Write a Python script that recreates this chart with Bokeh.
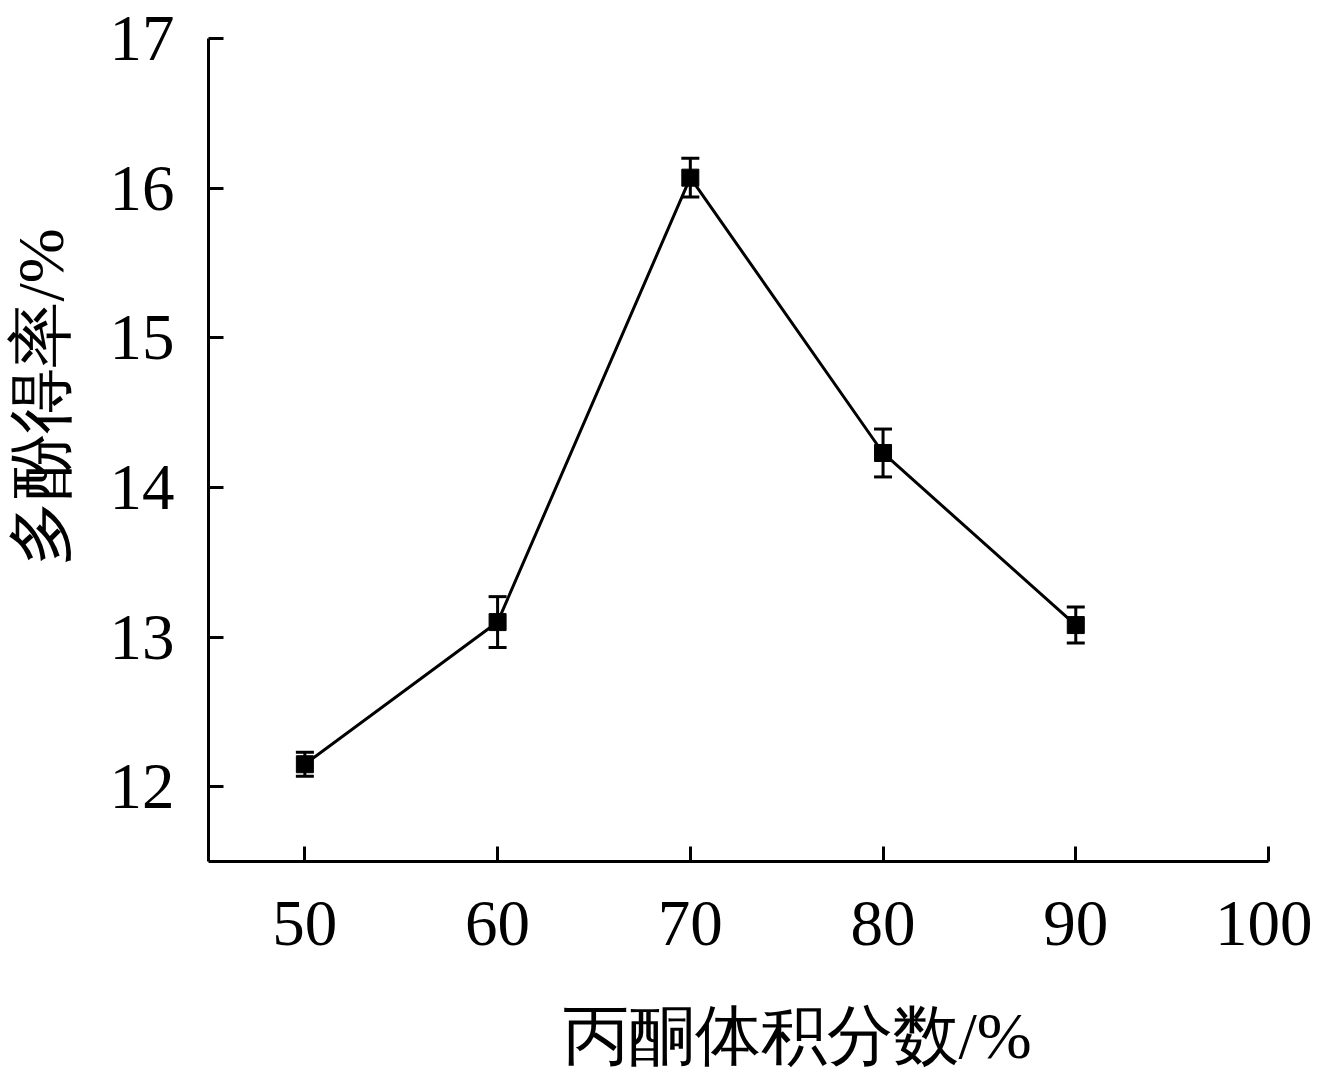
from bokeh.plotting import figure
from bokeh.models import ColumnDataSource, Whisker, TeeHead, Title, FixedTicker, Range1d
from bokeh.embed import file_html
from bokeh.resources import INLINE

# data
acetone = [50, 60, 70, 80, 90]
yield_pct = [12.15, 13.10, 16.07, 14.23, 13.08]
err = [0.08, 0.17, 0.13, 0.16, 0.12]
x_ticks = [50, 60, 70, 80, 90, 100]
y_ticks = [12, 13, 14, 15, 16, 17]
x_title = "丙酮体积分数/%"
y_title = "多酚得率/%"

src = ColumnDataSource(dict(
    x=acetone, y=yield_pct,
    upper=[v + e for v, e in zip(yield_pct, err)],
    lower=[v - e for v, e in zip(yield_pct, err)],
))

W, H = 1312, 1072
p = figure(width=W, height=H, output_backend="svg", toolbar_location=None,
           x_range=Range1d(45, 100), y_range=Range1d(11.5, 17),
           min_border_left=208, min_border_right=44, min_border_top=38, min_border_bottom=211)
p.outline_line_color = None
p.grid.visible = False
p.background_fill_color = "white"
p.border_fill_color = "white"

FONT = "Liberation Serif"
for ax in (p.xaxis[0], p.yaxis[0]):
    ax.axis_line_width = 3
    ax.axis_line_color = "black"
    ax.major_tick_line_width = 3
    ax.major_tick_line_color = "black"
    ax.major_tick_in = 15
    ax.major_tick_out = 0
    ax.minor_tick_line_color = None
    ax.major_label_text_font = FONT
    ax.major_label_text_font_size = "65px"
    ax.major_label_text_color = "black"
p.xaxis.ticker = FixedTicker(ticks=x_ticks)
p.yaxis.ticker = FixedTicker(ticks=y_ticks)
p.xaxis.major_label_standoff = 40
p.yaxis.major_label_standoff = 34

p.line("x", "y", source=src, line_color="black", line_width=3)
w = Whisker(source=src, base="x", upper="upper", lower="lower",
            line_color="black", line_width=3,
            upper_head=TeeHead(size=18, line_width=3, line_color="black"),
            lower_head=TeeHead(size=18, line_width=3, line_color="black"))
p.add_layout(w)
p.scatter("x", "y", source=src, marker="square", size=17, fill_color="black", line_color="black")

# spacers between axes and axis titles
p.add_layout(Title(text=" ", text_font_size="1px", standoff=46), "below")
p.add_layout(Title(text=" ", text_font_size="1px", standoff=27), "left")

p.add_layout(Title(text=x_title, align="left", offset=354, text_font=FONT,
                   text_font_size="66px", text_font_style="normal", text_color="black",
                   standoff=0), "below")
p.add_layout(Title(text=y_title, align="left", offset=296, text_font=FONT,
                   text_font_size="66px", text_font_style="normal", text_color="black",
                   standoff=0), "left")

open("out.html", "w").write(file_html(p, INLINE))
